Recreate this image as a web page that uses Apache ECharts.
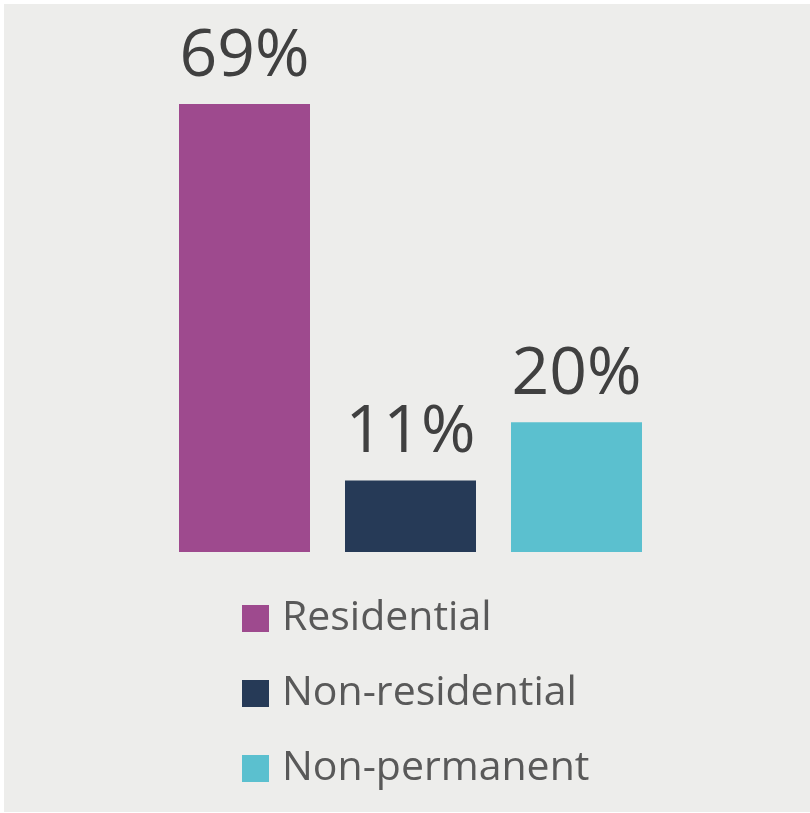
<!DOCTYPE html>
<html>
<head>
<meta charset="utf-8">
<script src="https://cdn.jsdelivr.net/npm/echarts@6/dist/echarts.min.js"></script>
<style>
html,body{margin:0;padding:0;background:#ffffff;}
#chart{width:810px;height:813px;}
</style>
</head>
<body>
<div id="chart"></div>
<script>
const categories = ['Residential', 'Non-residential', 'Non-permanent'];
const values = [69, 11, 20];
const colors = ['#9e4a8e', '#263a57', '#5bc0cf'];

const chart = echarts.init(document.getElementById('chart'), null, {renderer: 'canvas'});
const FONT = '"Open Sans", sans-serif';

const series = categories.map((name, i) => ({
  name: name,
  type: 'bar',
  stack: 'total',
  barWidth: 131,
  itemStyle: {color: colors[i]},
  data: categories.map((c, j) => j === i ? values[i] : '-'),
  label: {
    show: true,
    position: 'top',
    distance: 14,
    formatter: p => p.value + '%',
    fontFamily: FONT,
    fontSize: 66,
    color: '#404040'
  }
}));

chart.setOption({
  backgroundColor: '#ffffff',
  animation: false,
  graphic: [{
    type: 'rect',
    z: -100,
    silent: true,
    shape: {x: 4, y: 4, width: 806, height: 808},
    style: {fill: '#ededeb'}
  }],
  grid: {left: 161.5, width: 498, top: 97.5, height: 454.5},
  xAxis: {
    type: 'category',
    data: categories,
    show: false
  },
  yAxis: {
    type: 'value',
    min: 0,
    max: 70,
    show: false
  },
  legend: {
    orient: 'vertical',
    left: 242,
    top: 598,
    padding: 0,
    itemWidth: 27,
    itemHeight: 27,
    itemGap: 34,
    icon: 'rect',
    textStyle: {
      fontFamily: FONT,
      fontSize: 41,
      lineHeight: 40,
      color: '#595959',
      padding: [0, 0, 0, 8]
    },
    data: categories
  },
  series: series
});
</script>
</body>
</html>
